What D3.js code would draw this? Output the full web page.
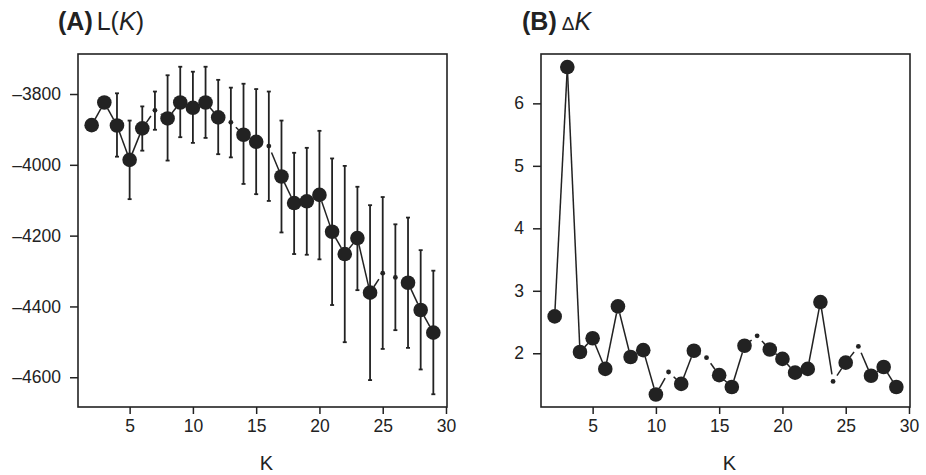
<!DOCTYPE html>
<html>
<head>
<meta charset="utf-8">
<script src="https://cdn.jsdelivr.net/npm/d3@7"></script>
<style>
  body { margin: 0; background: #fff; }
  text { font-family: "Liberation Sans", Arial, sans-serif; fill: #222; }
</style>
</head>
<body>
<script>
// K values (same for both panels)
const kVals = [2,3,4,5,6,7,8,9,10,11,12,13,14,15,16,17,18,19,20,21,22,23,24,25,26,27,28,29]

// panel A: mean L(K) and error bar ends
const meanL = [-3888,-3824,-3889,-3986,-3897,-3846,-3869,-3824,-3839,-3824,-3866,-3880,-3915,-3935,
               -3947,-4033,-4108,-4103,-4085,-4189,-4252,-4207,-4361,-4306,-4318,-4333,-4410,-4474]
const upperL = [-3888,-3824,-3798,-3875,-3835,-3793,-3747,-3723,-3737,-3723,-3760,-3782,-3771,-3786,
                -3793,-3875,-3966,-3952,-3904,-3982,-4003,-4062,-4114,-4091,-4168,-4149,-4241,-4299]
const lowerL = [-3888,-3824,-3977,-4097,-3960,-3901,-3988,-3922,-3938,-3924,-3970,-3979,-4054,-4083,
                -4102,-4191,-4252,-4254,-4267,-4396,-4501,-4354,-4608,-4520,-4467,-4517,-4578,-4648]
// small marker flags (1 = small dot)
const smallA = [0,0,0,0,0,1,0,0,0,0,0,1,0,0,1,0,0,0,0,0,0,0,0,1,1,0,0,0]

// panel B: delta K
const deltaK = [2.59,6.58,2.02,2.24,1.75,2.75,1.94,2.05,1.34,1.70,1.51,2.04,1.93,1.65,
                1.46,2.12,2.28,2.06,1.91,1.69,1.75,2.82,1.55,1.85,2.11,1.64,1.78,1.46]
const smallB = [0,0,0,0,0,0,0,0,0,1,0,0,1,0,0,0,1,0,0,0,0,0,1,0,1,0,0,0]

const xTicks = [5,10,15,20,25,30]
const yTicksA = [-3800,-4000,-4200,-4400,-4600]
const yTicksB = [2,3,4,5,6]

const W = 926, H = 475
const ink = "#222"
const bigR = 7.3, smallR = 2.4, gap = 7
// long dash for negative labels, like the original print
const fmt = d => (d < 0 ? "\u2013" : "") + Math.abs(d)

const svg = d3.select("body").append("svg")
  .attr("width", W)
  .attr("height", H)

function panel(opts) {
  const g = svg.append("g")
  const x = d3.scaleLinear().domain([0.92, 30.08]).range([opts.left, opts.right])
  const y = d3.scaleLinear().domain(opts.yDomain).range([opts.bottom, opts.top])

  // x axis
  const xa = g.append("g")
    .attr("transform", `translate(0,${opts.bottom})`)
    .call(d3.axisBottom(x).tickValues(xTicks).tickFormat(fmt).tickSize(7).tickPadding(6))
  // y axis
  const ya = g.append("g")
    .attr("transform", `translate(${opts.left},0)`)
    .call(d3.axisLeft(y).tickValues(opts.yTicks).tickFormat(fmt).tickSize(8).tickPadding(9))
  ;[xa, ya].forEach(a => {
    a.select(".domain").remove()
    a.selectAll("line").attr("stroke", ink).attr("stroke-width", 1.5)
    a.selectAll("text").style("font-size", "17.5px").attr("fill", ink)
  })

  // box
  g.append("rect")
    .attr("x", opts.left).attr("y", opts.top)
    .attr("width", opts.right - opts.left)
    .attr("height", opts.bottom - opts.top)
    .attr("fill", "none").attr("stroke", ink).attr("stroke-width", 1.6)

  // axis title
  g.append("text")
    .attr("x", (opts.left + opts.right) / 2 + 4)
    .attr("y", 470)
    .attr("text-anchor", "middle")
    .style("font-size", "20px")
    .text("K")

  const pts = kVals.map((k, i) => ({
    k, v: opts.values[i], small: opts.small[i],
    lo: opts.lower ? opts.lower[i] : null,
    hi: opts.upper ? opts.upper[i] : null
  }))

  // error bars
  if (opts.lower) {
    const eb = g.append("g").attr("stroke", ink).attr("stroke-width", 1.8)
    pts.filter(d => d.hi !== d.lo).forEach(d => {
      eb.append("line")
        .attr("x1", x(d.k)).attr("x2", x(d.k))
        .attr("y1", y(d.hi)).attr("y2", y(d.lo))
      ;[d.hi, d.lo].forEach(v => {
        eb.append("line")
          .attr("x1", x(d.k) - 2).attr("x2", x(d.k) + 2)
          .attr("y1", y(v)).attr("y2", y(v))
      })
    })
  }

  // connecting segments with gaps at every point (type "b")
  const seg = d3.pairs(pts).map(([a, b]) => {
    const x1 = x(a.k), y1 = y(a.v), x2 = x(b.k), y2 = y(b.v)
    const len = Math.hypot(x2 - x1, y2 - y1)
    const ux = (x2 - x1) / len, uy = (y2 - y1) / len
    return { len, x1: x1 + ux * gap, y1: y1 + uy * gap, x2: x2 - ux * gap, y2: y2 - uy * gap }
  }).filter(s => s.len > 2 * gap)

  g.append("g").selectAll("line")
    .data(seg)
    .enter()
    .append("line")
    .attr("x1", d => d.x1).attr("y1", d => d.y1)
    .attr("x2", d => d.x2).attr("y2", d => d.y2)
    .attr("stroke", ink)
    .attr("stroke-width", 1.5)

  // markers
  g.append("g").selectAll("circle")
    .data(pts)
    .enter()
    .append("circle")
    .attr("cx", d => x(d.k))
    .attr("cy", d => y(d.v))
    .attr("r", d => d.small ? smallR : bigR)
    .attr("fill", ink)

  // panel title
  const t = svg.append("text")
    .attr("x", opts.titleX)
    .attr("y", 30)
    .style("font-size", "25px")
  t.append("tspan").style("font-weight", "bold").text(opts.tag)
  opts.title(t)
}

panel({
  left: 78, right: 447, top: 54, bottom: 407,
  yDomain: [-4684, -3687],
  yTicks: yTicksA,
  values: meanL, lower: lowerL, upper: upperL, small: smallA,
  titleX: 58, tag: "(A)",
  title: t => {
    t.append("tspan").attr("dx", 4).text("L(")
    t.append("tspan").style("font-style", "italic").text("K")
    t.append("tspan").text(")")
  }
})

panel({
  left: 541, right: 910, top: 54, bottom: 407,
  yDomain: [1.14, 6.79],
  yTicks: yTicksB,
  values: deltaK, small: smallB,
  titleX: 522, tag: "(B)",
  title: t => {
    t.append("tspan").attr("dx", 5).style("font-size", "19px").text("\u0394")
    t.append("tspan").style("font-style", "italic").text("K")
  }
})
</script>
</body>
</html>
